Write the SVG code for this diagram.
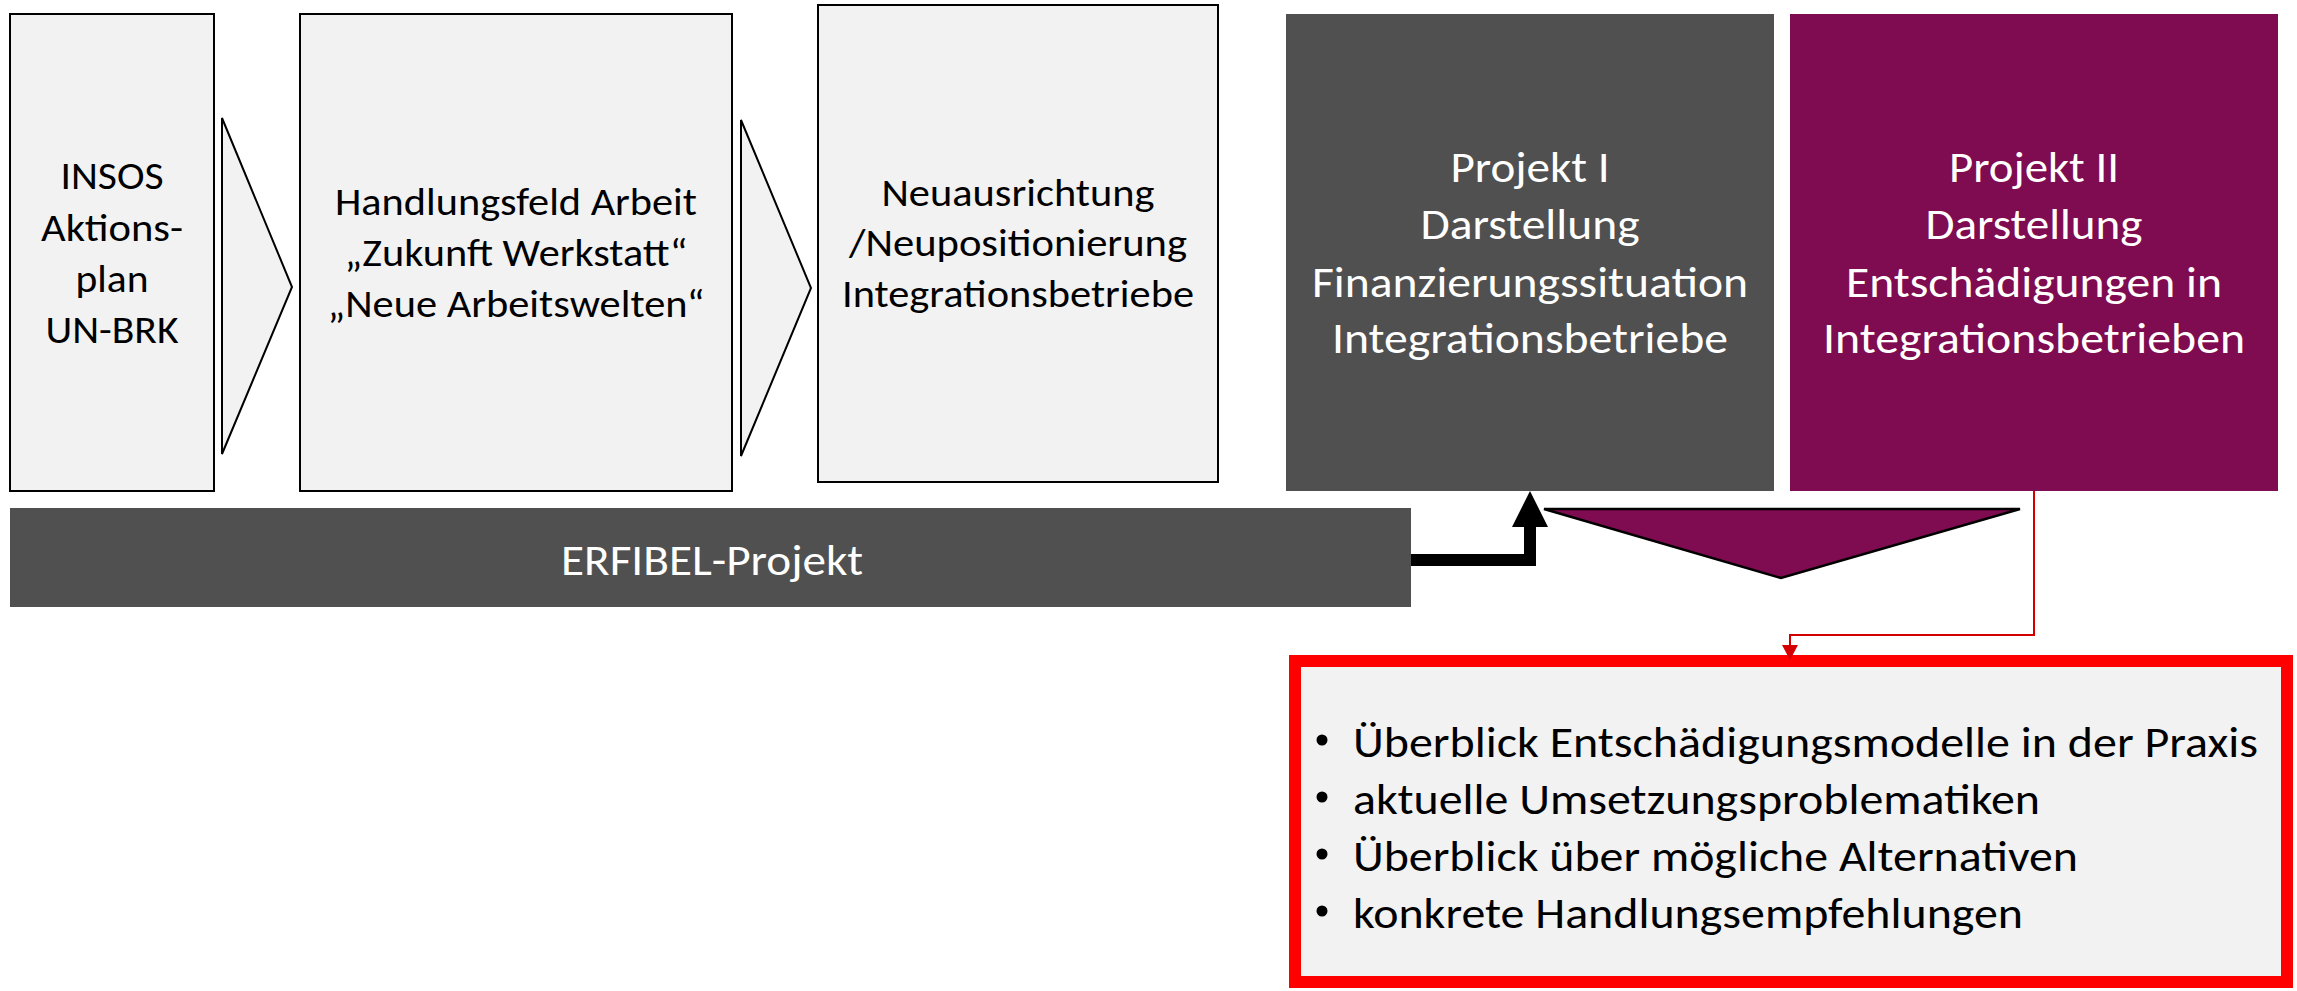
<svg xmlns="http://www.w3.org/2000/svg" width="2297" height="991" viewBox="0 0 2297 991">
  <style>
    .light { fill: #f2f2f2; stroke: #000000; stroke-width: 2; }
    .chev { fill: #f2f2f2; stroke: #000000; stroke-width: 2; stroke-linejoin: miter; }
    .dark { fill: #505050; }
    .plum { fill: #7f0b50; }
    text { font-family: Calibri, Carlito, Lato, "Open Sans", sans-serif; text-anchor: middle; }
    .t42 { font-size: 39px; fill: #000000; }
    .t47w { font-size: 44px; fill: #ffffff; }
    .bul { font-size: 44px; fill: #000000; text-anchor: start; }
    .dot { fill: #000000; }
  </style>
  <defs>
    <marker id="headBlack" markerUnits="userSpaceOnUse" markerWidth="36" markerHeight="36" refX="0" refY="18" orient="auto">
      <path d="M0,0 L36,18 L0,36 Z" fill="#000000"/>
    </marker>
    <marker id="headRed" markerUnits="userSpaceOnUse" markerWidth="15" markerHeight="16" refX="0" refY="8" orient="auto">
      <path d="M0,0 L15,8 L0,16 Z" fill="#d40000"/>
    </marker>
  </defs>

  <!-- process chain -->
  <g id="insos">
    <rect class="light" x="10" y="14" width="204" height="477"/>
    <text class="t42" x="112" y="189" textLength="103" lengthAdjust="spacingAndGlyphs">INSOS</text>
    <text class="t42" x="112" y="241" textLength="142" lengthAdjust="spacingAndGlyphs">Aktions-</text>
    <text class="t42" x="112" y="292" textLength="73" lengthAdjust="spacingAndGlyphs">plan</text>
    <text class="t42" x="112" y="343" textLength="133" lengthAdjust="spacingAndGlyphs">UN-BRK</text>
  </g>

  <g id="chevron-1">
    <polygon class="chev" points="222,118 292,287 222,454"/>
  </g>

  <g id="handlungsfeld">
    <rect class="light" x="300" y="14" width="432" height="477"/>
    <text class="t42" x="516" y="215" textLength="362" lengthAdjust="spacingAndGlyphs">Handlungsfeld Arbeit</text>
    <text class="t42" x="516" y="266" textLength="343" lengthAdjust="spacingAndGlyphs">„Zukunft Werkstatt“</text>
    <text class="t42" x="516" y="317" textLength="377" lengthAdjust="spacingAndGlyphs">„Neue Arbeitswelten“</text>
  </g>

  <g id="chevron-2">
    <polygon class="chev" points="741,120 811,288 741,456"/>
  </g>

  <g id="neuausrichtung">
    <rect class="light" x="818" y="5" width="400" height="477"/>
    <text class="t42" x="1018" y="206" textLength="273" lengthAdjust="spacingAndGlyphs">Neuausrichtung</text>
    <text class="t42" x="1018" y="256" textLength="338" lengthAdjust="spacingAndGlyphs">/Neupositionierung</text>
    <text class="t42" x="1018" y="307" textLength="352" lengthAdjust="spacingAndGlyphs">Integrationsbetriebe</text>
  </g>

  <!-- projects -->
  <g id="projekt-1">
    <rect class="dark" x="1286" y="14" width="488" height="477"/>
    <text class="t47w" x="1530" y="182" textLength="159" lengthAdjust="spacingAndGlyphs">Projekt I</text>
    <text class="t47w" x="1530" y="239" textLength="219" lengthAdjust="spacingAndGlyphs">Darstellung</text>
    <text class="t47w" x="1530" y="297" textLength="436" lengthAdjust="spacingAndGlyphs">Finanzierungssituation</text>
    <text class="t47w" x="1530" y="353" textLength="396" lengthAdjust="spacingAndGlyphs">Integrationsbetriebe</text>
  </g>

  <g id="projekt-2">
    <rect class="plum" x="1790" y="14" width="488" height="477"/>
    <text class="t47w" x="2034" y="182" textLength="170" lengthAdjust="spacingAndGlyphs">Projekt II</text>
    <text class="t47w" x="2034" y="239" textLength="217" lengthAdjust="spacingAndGlyphs">Darstellung</text>
    <text class="t47w" x="2034" y="297" textLength="376" lengthAdjust="spacingAndGlyphs">Entschädigungen in</text>
    <text class="t47w" x="2034" y="353" textLength="422" lengthAdjust="spacingAndGlyphs">Integrationsbetrieben</text>
  </g>

  <g id="erfibel">
    <rect class="dark" x="10" y="508" width="1401" height="99"/>
    <text class="t47w" x="712" y="575" textLength="302" lengthAdjust="spacingAndGlyphs">ERFIBEL-Projekt</text>
  </g>

  <g id="funnel">
    <polygon class="plum" points="1544,509 2020,509 1781,578" stroke="#000000" stroke-width="2.5" stroke-linejoin="miter"/>
  </g>

  <g id="ergebnisse">
    <rect x="1295" y="661" width="992" height="321" fill="#f2f2f2" stroke="#ff0000" stroke-width="12"/>
    <circle class="dot" cx="1322" cy="740" r="5.5"/>
    <circle class="dot" cx="1322" cy="797" r="5.5"/>
    <circle class="dot" cx="1322" cy="854" r="5.5"/>
    <circle class="dot" cx="1322" cy="911" r="5.5"/>
    <text class="bul" x="1353" y="757" textLength="905" lengthAdjust="spacingAndGlyphs">Überblick Entschädigungsmodelle in der Praxis</text>
    <text class="bul" x="1353" y="814" textLength="687" lengthAdjust="spacingAndGlyphs">aktuelle Umsetzungsproblematiken</text>
    <text class="bul" x="1353" y="871" textLength="725" lengthAdjust="spacingAndGlyphs">Überblick über mögliche Alternativen</text>
    <text class="bul" x="1353" y="928" textLength="670" lengthAdjust="spacingAndGlyphs">konkrete Handlungsempfehlungen</text>
  </g>

  <!-- connectors -->
  <g id="connectors" fill="none">
    <path d="M1411,560 H1530 V527" stroke="#000000" stroke-width="12" stroke-linejoin="miter" marker-end="url(#headBlack)"/>
    <path d="M2034,491 V635 H1790 V645" stroke="#d40000" stroke-width="2" marker-end="url(#headRed)"/>
  </g>
</svg>
